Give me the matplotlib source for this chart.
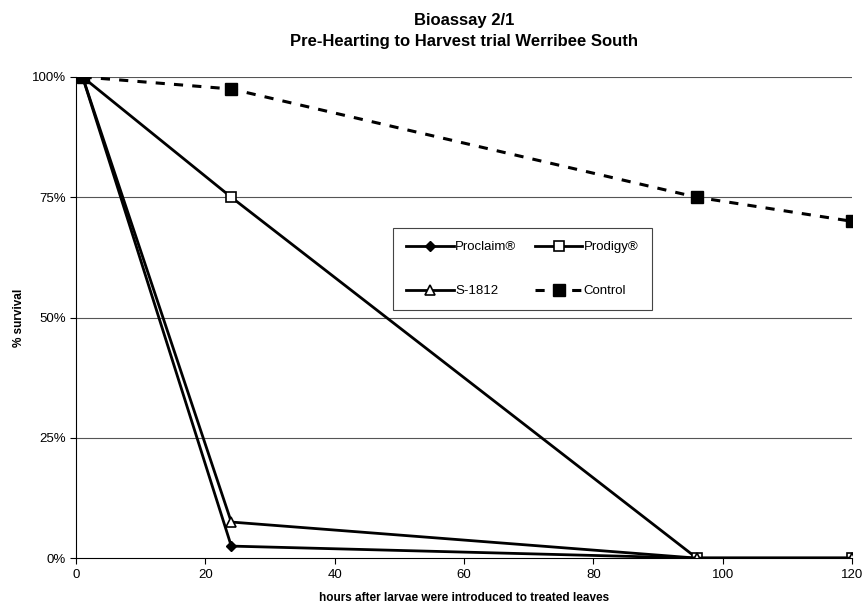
import matplotlib.pyplot as plt
from matplotlib.ticker import PercentFormatter

hours = [1, 24, 96, 120]
proclaim = [100, 2.5, 0, 0]
prodigy = [100, 75, 0, 0]
s1812 = [100, 7.5, 0, 0]
control = [100, 97.5, 75, 70]

plt.rcParams['font.family'] = ['Liberation Sans', 'DejaVu Sans']

fig = plt.figure(figsize=(8.65, 6.06), dpi=100)
ax = fig.add_axes([0.088, 0.079, 0.897, 0.794])

for y in [25, 50, 75, 100]:
    ax.axhline(y, color='#555555', lw=0.8, zorder=0)

l1, = ax.plot(hours, proclaim, color='black', lw=2, marker='D', ms=5.5,
              mfc='black', label='Proclaim®')
l2, = ax.plot(hours, prodigy, color='black', lw=2, marker='s', ms=7,
              mfc='white', mew=1.2, label='Prodigy®')
l3, = ax.plot(hours, s1812, color='black', lw=2, marker='^', ms=7,
              mfc='white', mew=1.2, label='S-1812')
l4, = ax.plot(hours, control, color='black', lw=2.2, ls=(0, (3, 3)),
              marker='s', ms=8, mfc='black', label='Control')

ax.set_xlim(0, 120)
ax.set_ylim(0, 100)
ax.set_xticks([0, 20, 40, 60, 80, 100, 120])
ax.set_yticks([0, 25, 50, 75, 100])
ax.yaxis.set_major_formatter(PercentFormatter(decimals=0))
ax.tick_params(labelsize=9.5, length=4, width=0.8)
ax.spines['top'].set_visible(False)
ax.spines['right'].set_visible(False)

ax.set_xlabel('hours after larvae were introduced to treated leaves',
              fontsize=8.5, fontweight='bold', labelpad=8)
ax.set_ylabel('% survival', fontsize=8.5, fontweight='bold', labelpad=5)
ax.set_title('Bioassay 2/1\nPre-Hearting to Harvest trial Werribee South',
             fontsize=12, fontweight='bold', pad=22, linespacing=1.5)

leg = ax.legend(handles=[l1, l3, l2, l4], ncol=2, fontsize=9.5,
                loc='upper left', bbox_to_anchor=(0.40, 0.70),
                fancybox=False, edgecolor='#444444', framealpha=1,
                labelspacing=2.4, handlelength=3.6, handletextpad=0.1,
                columnspacing=1.4, borderpad=1.0)
leg.get_frame().set_linewidth(0.8)

fig.savefig('out.png', dpi=100)
